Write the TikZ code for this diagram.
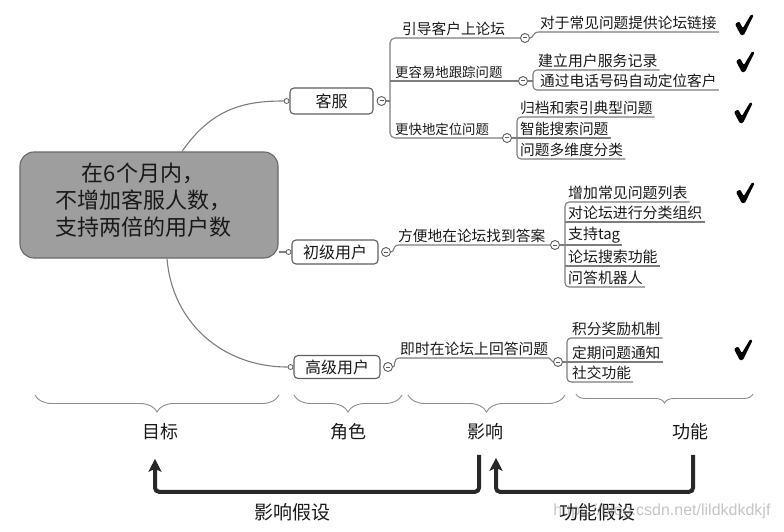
\documentclass[tikz,border=0pt]{standalone}
\usepackage{fontspec}
\setmainfont{Noto Sans CJK SC}
\newfontfamily\wmfont{Liberation Sans}
\usetikzlibrary{arrows.meta,decorations.pathreplacing,calc}
\definecolor{maingray}{RGB}{158,158,158}
\definecolor{mainborder}{RGB}{105,105,105}
\definecolor{linegray}{RGB}{125,125,125}
\definecolor{boxgray}{RGB}{95,95,95}
\definecolor{txtcol}{RGB}{25,25,25}
\definecolor{bracegray}{RGB}{140,140,140}
\definecolor{arrowcol}{RGB}{40,40,40}
\tikzset{
  conn/.style={draw=linegray, line width=1.1pt},
  rolebox/.style={draw=boxgray, line width=1.1pt, rounded corners=4pt, fill=white,
    inner sep=0pt, font=\fontsize{16}{18}\selectfont, text=txtcol},
  minusdot/.style={circle, draw=boxgray, line width=0.9pt, fill=white, minimum size=9pt,
    inner sep=0pt, path picture={\draw[line width=1pt, boxgray]
      ([xshift=-2pt]path picture bounding box.center) -- ([xshift=2pt]path picture bounding box.center);}},
  knob/.style={circle, draw=boxgray, line width=0.8pt, fill=white, minimum size=5pt, inner sep=0pt},
  txt/.style={anchor=south west, inner xsep=2pt, inner ysep=2pt,
    font=\fontsize{#1}{#1}\selectfont, text=txtcol},
  txt/.default=14.7,
  tick/.pic={\fill[black, rounded corners=1.2pt]
      (-9,-1) -- (-4.8,-3.6) -- (-1.2,3.2) -- (7.2,-10.8) -- (9.6,-9.6)
      -- (-0.2,10.2) -- (-3.2,10.2) -- cycle;},
  axlabel/.style={font=\fontsize{18}{20}\selectfont, text=txtcol},
  brc/.style={draw=bracegray, line width=0.9pt, decorate,
    decoration={brace, mirror, amplitude=#1}},
  bigarrow/.style={draw=arrowcol, line width=4pt, rounded corners=4pt,
    -{Stealth[length=13pt,width=13pt,inset=3pt]}}
}
\begin{document}
\begin{tikzpicture}[x=1pt,y=-1pt]
\useasboundingbox (0,0) rectangle (784,532);

% main goal
\node[draw=mainborder, fill=maingray, line width=1.1pt, rounded corners=14pt,
      minimum width=258pt, minimum height=106pt,
      label={[xshift=-6pt, yshift=5pt, align=center, text=txtcol,
              font=\fontsize{22}{27}\selectfont]center:在6个月内，\\不增加客服人数，\\支持两倍的用户数}]
      (main) at (149,205) {};

% roles
\node[rolebox, minimum width=83pt, minimum height=26pt] (r1) at (331.5,101) {客服};
\node[rolebox, minimum width=86pt, minimum height=24pt] (r2) at (335,252) {初级用户};
\node[rolebox, minimum width=86pt, minimum height=23pt] (r3) at (337,367) {高级用户};
\node[knob, anchor=east] (k1) at (r1.west) {};
\node[knob, anchor=east] (k2) at (r2.west) {};
\node[knob, anchor=east] (k3) at (r3.west) {};
\node[minusdot, anchor=west] (m1) at ([xshift=3pt]r1.east) {};
\node[minusdot, anchor=west] (m2) at ([xshift=2.5pt]r2.east) {};
\node[minusdot, anchor=west] (m3) at ([xshift=2.5pt]r3.east) {};

\draw[conn] ([xshift=33pt]main.north) .. controls (212,108) and (245,101) .. (k1.west);
\draw[conn] (main.east |- k2) -- (k2.west);
\draw[conn] ([xshift=18pt]main.south) .. controls (172,322) and (222,367) .. (k3.west);

% ---- 客服 impacts
\node[txt=14.7] (i1) at (400,38) {引导客户上论坛};
\node[txt=13.4] (i2) at (393,81) {更容易地跟踪问题};
\node[txt=13.4] (i3) at (393,138) {更快地定位问题};
\node[minusdot] (c1) at (525,38) {};
\node[minusdot] (c2) at (523,81) {};
\node[minusdot] (c3) at (507,138) {};
\draw[conn] (m1.east) -- (390,101);
\draw[conn, rounded corners=5pt] (c1.west) -- (390,38) -- (390,138) -- (c3.west);
\draw[conn] (390,81) -- (c2.west);

% leaves of 客服
\node[txt=14.7] (l11) at (538,32) {对于常见问题提供论坛链接};
\draw[conn] (c1.east) .. controls (534,38) and (532,32) .. (539,32) -- (l11.south east);

\node[txt=14.9] (l21) at (536,70) {建立用户服务记录};
\node[txt=14.7] (l22) at (538,90) {通过电话号码自动定位客户};
\draw[conn] (c2.east) -- (533,81);
\draw[conn, rounded corners=4pt] (l21.south east) -- (533,70) -- (533,90) -- (l22.south east);

\node[txt] (l31) at (518,117) {归档和索引典型问题};
\node[txt] (l32) at (518,138) {智能搜索问题};
\node[txt] (l33) at (518,159) {问题多维度分类};
\draw[conn] (c3.east) -- (517,138) -- (l32.south east);
\draw[conn, rounded corners=4pt] (l31.south east) -- (517,117) -- (517,159) -- (l33.south east);

% ---- 初级用户
\node[txt=14.7] (i4) at (396,245) {方便地在论坛找到答案};
\node[minusdot] (c4) at (555,245) {};
\draw[conn] (m2.east) .. controls (395,252) and (392,245) .. (399,245) -- (c4.west);
\node[txt=14.9] (l41) at (566,202) {增加常见问题列表};
\node[txt=14.9] (l42) at (566,222) {对论坛进行分类组织};
\node[txt=14.9] (l43) at (566,245) {支持tag};
\node[txt=14.9] (l44) at (566,266) {论坛搜索功能};
\node[txt=14.9] (l45) at (566,287) {问答机器人};
\draw[conn] (c4.east) -- (565,245) -- (l43.south east);
\draw[conn, rounded corners=4pt] (l41.south east) -- (565,202) -- (565,287) -- (l45.south east);
\draw[conn] (565,222) -- (l42.south east);
\draw[conn] (565,266) -- (l44.south east);

% ---- 高级用户
\node[txt=14.8] (i5) at (398,358) {即时在论坛上回答问题};
\node[minusdot] (c5) at (558,362) {};
\draw[conn] (m3.east) .. controls (396,368) and (392,358) .. (400,358) -- (549,358) -- (c5.west);
\node[txt] (l51) at (570,338) {积分奖励机制};
\node[txt] (l52) at (570,362) {定期问题通知};
\node[txt] (l53) at (570,382) {社交功能};
\draw[conn] (c5.east) -- (567,362) -- (l52.south east);
\draw[conn, rounded corners=4pt] (l51.south east) -- (567,338) -- (567,382) -- (l53.south east);

% check marks
\pic at (744,25) {tick};
\pic at (745,62) {tick};
\pic at (743,113) {tick};
\pic at (745,193) {tick};
\pic at (743,350) {tick};

% braces
\draw[brc=17] (35,395) -- (279,395);
\draw[brc=17] (294,395) -- (402,395);
\draw[brc=17] (408,395) -- (565,395);
\draw[brc=9] (576,394) -- (753,394);

% axis labels
\node[axlabel] (mb) at (160,432) {目标};
\node[axlabel] (js) at (348,432) {角色};
\node[axlabel] (yx) at (485,432) {影响};
\node[axlabel] (gn) at (690,432) {功能};

% arrows
\draw[bigarrow] ([shift={(-6,11)}]yx.south) -- ++(0,37) -| ([shift={(-5,15)}]mb.south);
\draw[bigarrow] ([shift={(3,11)}]gn.south) -- ++(0,37) -| ([shift={(11,14)}]yx.south);

\node[font=\fontsize{19}{20}\selectfont, text=txtcol] (h1) at (292,512) {影响假设};
\node[font=\fontsize{19}{20}\selectfont, text=txtcol] (h2) at (597,512) {功能假设};
\node[anchor=east, font=\wmfont\fontsize{16}{16}\selectfont, text=gray, opacity=0.45] (wm) at (774,511) {https://blog.csdn.net/lildkdkdkjf};
\end{tikzpicture}
\end{document}
